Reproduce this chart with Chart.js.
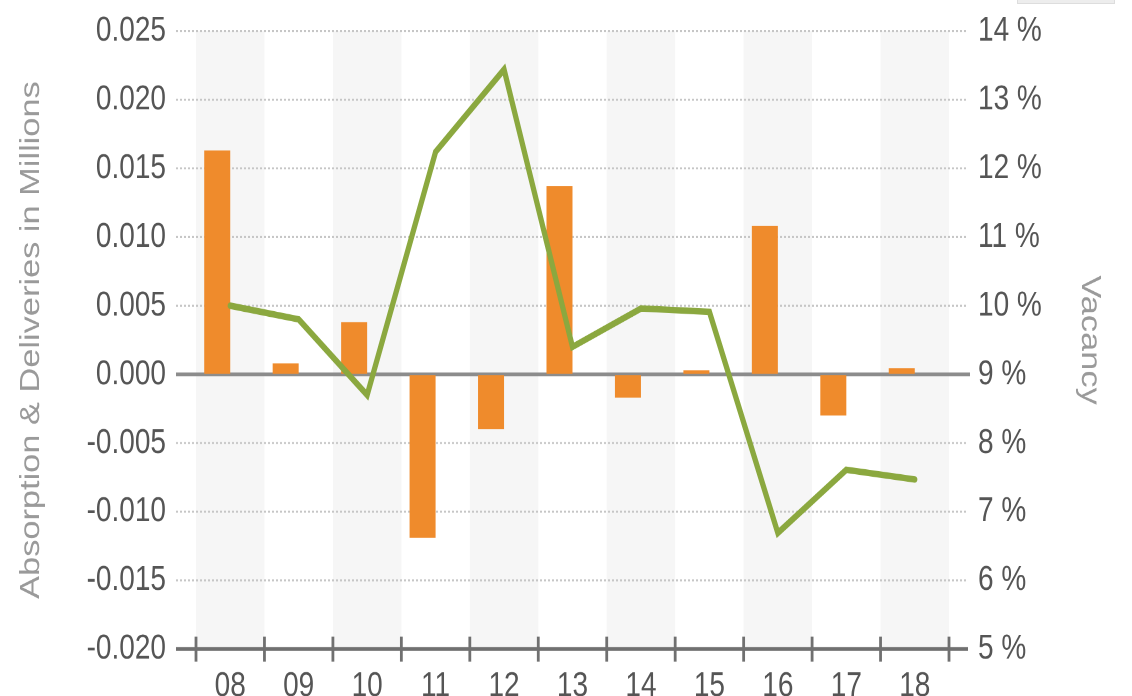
<!DOCTYPE html>
<html>
<head>
<meta charset="utf-8">
<script src="https://cdn.jsdelivr.net/npm/chart.js@4.4.1/dist/chart.umd.min.js"></script>
<style>
  body { margin: 0; background: #fff; }
  #marco { position: relative; width: 1132px; height: 696px; overflow: hidden; }
  /* el original está estirado en vertical: se dibuja a 557px y se escala */
  #estirado { width: 1132px; height: 557px; transform: scaleY(1.2496); transform-origin: 0 0; }
  #boton { position: absolute; left: 1017px; top: 0; width: 96px; height: 3px; background: #ededed; border: 1px solid #dddddd; border-top: none; }
</style>
</head>
<body>
<div id="marco">
  <div id="estirado"><canvas id="grafico" width="1132" height="557"></canvas></div>
  <div id="boton"></div>
</div>
<script>
// --- Datos ---
const years = ['08', '09', '10', '11', '12', '13', '14', '15', '16', '17', '18'];
const absorption = [0.0163, 0.0008, 0.0038, -0.0119, -0.0040, 0.0137, -0.0017, 0.0003, 0.0108, -0.0030, 0.00045];
const deliveries = [0, 0, 0, 0, 0, 0, 0, 0, 0, 0, 0];
const vacancy = [10.0, 9.8, 8.7, 12.24, 13.44, 9.4, 9.96, 9.91, 6.69, 7.61, 7.47];

// rangos de los ejes
const absMin = -0.020, absMax = 0.025, absStep = 0.005;
const vacMin = 5, vacMax = 14, vacStep = 1;

const FONT = "'Liberation Sans', Arial, sans-serif";
Chart.defaults.font.family = FONT;

/**
 * Fondo: bandas alternas, rejilla punteada, línea del cero y eje inferior.
 */
const fondoRejilla = {
    id: 'fondoRejilla',
    beforeDatasetsDraw(chart) {
        const { ctx, scales: { x, y } } = chart;
        const n = years.length;
        const w = (x.right - x.left) / n;
        const top = y.getPixelForValue(absMax);
        const bottom = y.getPixelForValue(absMin);
        const left = x.left - 20;
        const right = x.right + 19;

        ctx.save();
        // bandas grises en las categorías pares
        ctx.fillStyle = '#f6f6f6';
        for (let i = 0; i < n; i += 2) {
            ctx.fillRect(x.left + i * w, top, w, bottom - top);
        }

        // rejilla punteada
        ctx.strokeStyle = '#c6c6c6';
        ctx.lineWidth = 1.6;
        ctx.setLineDash([2, 2]);
        y.ticks.forEach(t => {
            if (Math.abs(t.value) < 1e-9 || t.value <= absMin + 1e-9) return;
            const py = y.getPixelForValue(t.value);
            ctx.beginPath();
            ctx.moveTo(left, py);
            ctx.lineTo(right, py);
            ctx.stroke();
        });

        // línea del cero
        ctx.setLineDash([]);
        ctx.strokeStyle = '#8c8c8c';
        ctx.lineWidth = 3;
        const y0 = y.getPixelForValue(0);
        ctx.beginPath();
        ctx.moveTo(left, y0);
        ctx.lineTo(right + 2, y0);
        ctx.stroke();

        // eje inferior con marcas entre categorías
        ctx.strokeStyle = '#707070';
        ctx.lineWidth = 3;
        ctx.beginPath();
        ctx.moveTo(left, bottom);
        ctx.lineTo(right, bottom);
        ctx.stroke();
        ctx.lineWidth = 2.8;
        for (let i = 0; i <= n; i++) {
            const px = x.left + i * w;
            ctx.beginPath();
            ctx.moveTo(px, bottom - 10);
            ctx.lineTo(px, bottom + 10);
            ctx.stroke();
        }
        ctx.restore();
    }
};

const tickFont = { size: 28 };
const tickColor = '#555555';
const titleColor = '#9a9a9a';

// la separación de las etiquetas se hace con marcas invisibles, así el
// relleno automático del layout no empuja el área del gráfico
const hiddenTicks = len => ({
    display: true,
    drawOnChartArea: false,
    drawTicks: true,
    tickLength: len,
    tickColor: 'rgba(0,0,0,0)'
});

new Chart(document.getElementById('grafico'), {
    data: {
        labels: years,
        datasets: [
            {
                type: 'line',
                label: 'Vacancy',
                data: vacancy,
                yAxisID: 'y1',
                borderColor: '#8ba83f',
                borderWidth: 5.2,
                borderCapStyle: 'round',
                pointRadius: 0,
                tension: 0,
                order: 0
            },
            {
                type: 'bar',
                label: 'Absorption',
                data: absorption,
                yAxisID: 'y',
                backgroundColor: '#ef8b2c',
                categoryPercentage: 0.76,
                barPercentage: 1,
                order: 1
            },
            {
                type: 'bar',
                label: 'Deliveries',
                data: deliveries,
                yAxisID: 'y',
                backgroundColor: '#9fb9d6',
                categoryPercentage: 0.76,
                barPercentage: 1,
                order: 1
            }
        ]
    },
    options: {
        responsive: false,
        animation: false,
        devicePixelRatio: 2,
        layout: { padding: { top: 24.8, left: 0, right: 0, bottom: 0 } },
        plugins: {
            legend: { display: false },
            tooltip: { enabled: false }
        },
        scales: {
            x: {
                grid: { display: false, drawTicks: false },
                border: { display: false },
                ticks: { font: tickFont, color: tickColor, padding: 13, maxRotation: 0 },
                afterFit(s) { s.height = 37.6; }
            },
            y: {
                position: 'left',
                min: absMin,
                max: absMax,
                grid: hiddenTicks(30),
                border: { display: false },
                ticks: {
                    stepSize: absStep,
                    padding: 0,
                    font: tickFont,
                    color: tickColor,
                    callback: v => (Math.abs(v) < 1e-9 ? 0 : v).toFixed(3)
                },
                title: {
                    display: true,
                    text: 'Absorption & Deliveries in Millions',
                    font: { size: 27.5 },
                    color: titleColor,
                    padding: { top: 15, bottom: 0 }
                },
                afterFit(s) { s.width = 196; }
            },
            y1: {
                position: 'right',
                min: vacMin,
                max: vacMax,
                grid: hiddenTicks(29),
                border: { display: false },
                ticks: {
                    stepSize: vacStep,
                    padding: 0,
                    font: tickFont,
                    color: tickColor,
                    callback: v => v + ' %'
                },
                title: {
                    display: true,
                    text: 'Vacancy',
                    font: { size: 27.5 },
                    color: titleColor,
                    padding: { top: 26, bottom: 0 }
                },
                afterFit(s) { s.width = 183; }
            }
        }
    },
    plugins: [fondoRejilla]
});
</script>
</body>
</html>
